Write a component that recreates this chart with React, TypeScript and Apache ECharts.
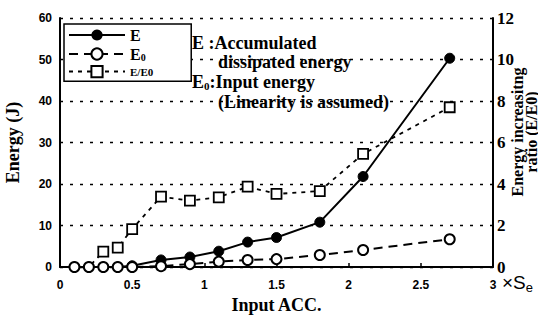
import React, { useEffect, useRef } from "react";
import * as echarts from "echarts";

const xValues = [0.1, 0.2, 0.3, 0.4, 0.5, 0.7, 0.9, 1.1, 1.3, 1.5, 1.8, 2.1, 2.7];
const eValues = [0, 0, 0, 0, 0.3, 1.7, 2.4, 3.8, 6.0, 7.1, 10.8, 21.8, 50.3];
const e0Values = [0, 0, 0, 0, 0, 0.2, 0.7, 1.3, 1.7, 1.9, 2.9, 4.1, 6.7];
const ratioValues = [0, 0, 0.74, 0.93, 1.83, 3.39, 3.2, 3.36, 3.87, 3.52, 3.66, 5.45, 7.7];
const xTickLabels = ["0", "0.5", "1", "1.5", "2", "2.5", "3"];

const SERIF = "Liberation Serif";
const SANS = "Liberation Sans";

const serifStyle = (size: number) => ({
  fontFamily: SERIF,
  fontWeight: "bold",
  fontSize: size,
  fill: "#000",
});

export default function App() {
  const ref = useRef<HTMLDivElement>(null);
  useEffect(() => {
    if (!ref.current) return;
    const chart = echarts.init(ref.current, null, { renderer: "svg" });
    const pair = (vals: number[]) => xValues.map((x, i) => [x, vals[i]]);
    const ratioData = xValues.map((x, i) =>
      ratioValues[i] === 0 ? { value: [x, 0], symbol: "none" } : { value: [x, ratioValues[i]] }
    );
    chart.setOption({
      animation: false,
      backgroundColor: "#fff",
      grid: { left: 60, right: 45, top: 18, bottom: 50, containLabel: false, outerBoundsMode: "none" },
      legend: {
        orient: "vertical",
        left: 64,
        top: 24,
        itemWidth: 56,
        itemHeight: 14,
        itemGap: 3,
        padding: [3, 38, 3, 4],
        borderColor: "#000",
        borderWidth: 1.5,
        backgroundColor: "#fff",
        data: ["E", "E0", "E/E0"],
        formatter: (name: string) => {
          if (name === "E") return "{m|E}";
          if (name === "E0") return "{m|E}{s|0}";
          return "{t|E/E0}";
        },
        textStyle: {
          color: "#000",
          fontFamily: SERIF,
          fontWeight: "bold",
          rich: {
            m: { fontFamily: SERIF, fontSize: 16, fontWeight: "bold", color: "#000" },
            s: { fontFamily: SERIF, fontSize: 10, fontWeight: "bold", color: "#000", verticalAlign: "bottom" },
            t: { fontFamily: SERIF, fontSize: 11, fontWeight: "bold", color: "#000" },
          },
        },
      },
      xAxis: {
        type: "value",
        min: 0,
        max: 3,
        interval: 0.5,
        axisLine: { lineStyle: { color: "#000", width: 2 } },
        axisTick: { inside: true, length: 4, lineStyle: { color: "#000", width: 1.5 } },
        splitLine: { show: false },
        axisLabel: {
          color: "#000",
          fontFamily: SANS,
          fontWeight: "bold",
          fontSize: 12,
          margin: 12,
          formatter: (v: number) => xTickLabels[Math.round(v / 0.5)] ?? "",
        },
        name: "Input ACC.",
        nameLocation: "middle",
        nameGap: 28,
        nameTextStyle: { fontFamily: SERIF, fontWeight: "bold", fontSize: 18, color: "#000" },
      },
      yAxis: [
        {
          type: "value",
          min: 0,
          max: 60,
          interval: 10,
          axisLine: { show: true, lineStyle: { color: "#000", width: 2 } },
          axisTick: { show: false },
          splitLine: { show: true, lineStyle: { color: "#000", width: 1.3, type: [3, 7] } },
          axisLabel: { color: "#000", fontFamily: SANS, fontWeight: "bold", fontSize: 12, margin: 8 },
          name: "Energy (J)",
          nameLocation: "middle",
          nameGap: 38,
          nameRotate: 90,
          nameTextStyle: { fontFamily: SERIF, fontWeight: "bold", fontSize: 18, color: "#000" },
        },
        {
          type: "value",
          min: 0,
          max: 12,
          interval: 2,
          position: "right",
          axisLine: { show: true, lineStyle: { color: "#000", width: 2 } },
          axisTick: { show: false },
          splitLine: { show: false },
          axisLabel: { color: "#000", fontFamily: SERIF, fontWeight: "bold", fontSize: 17, margin: 4 },
        },
      ],
      graphic: [
        {
          type: "text",
          left: 192,
          top: 34,
          style: { ...serifStyle(18), text: "E :Accumulated", backgroundColor: "#fff" },
        },
        {
          type: "text",
          left: 216,
          top: 53,
          style: { ...serifStyle(18), text: "dissipated energy", backgroundColor: "#fff", padding: [0, 2, 0, 2] },
        },
        {
          type: "text",
          left: 192,
          top: 73,
          style: {
            ...serifStyle(18),
            text: "{m|E}{s|0}{m|:Input energy}",
            backgroundColor: "#fff",
            rich: {
              m: { fontFamily: SERIF, fontWeight: "bold", fontSize: 18, color: "#000" },
              s: { fontFamily: SERIF, fontWeight: "bold", fontSize: 11, color: "#000", verticalAlign: "bottom", padding: [6, 0, 0, 0] },
            },
          },
        },
        {
          type: "text",
          left: 216,
          top: 93,
          style: { ...serifStyle(18), text: "(Linearity is assumed)", backgroundColor: "#fff", padding: [0, 2, 0, 2] },
        },
        {
          type: "text",
          left: 502,
          top: 273,
          style: {
            text: "{a|×S}{b|e}",
            fontFamily: SANS,
            rich: {
              a: { fontFamily: SANS, fontSize: 19, color: "#000" },
              b: { fontFamily: SANS, fontSize: 13, color: "#000", verticalAlign: "bottom", padding: [9, 0, 0, 0] },
            },
          },
        },
        {
          type: "text",
          x: 524,
          y: 132,
          rotation: Math.PI / 2,
          style: {
            ...serifStyle(16),
            text: "Energy increasitng\nratio (E/E0)",
            align: "center",
            verticalAlign: "middle",
            lineHeight: 14,
          },
        },
      ],
      series: [
        {
          name: "E",
          type: "line",
          yAxisIndex: 0,
          data: pair(eValues),
          symbol: "circle",
          symbolSize: 10,
          itemStyle: { color: "#000", borderColor: "#000" },
          lineStyle: { color: "#000", width: 2 },
          z: 3,
        },
        {
          name: "E0",
          type: "line",
          yAxisIndex: 0,
          data: pair(e0Values),
          symbol: "circle",
          symbolSize: 10,
          itemStyle: { color: "#fff", borderColor: "#000", borderWidth: 2 },
          lineStyle: { color: "#000", width: 2, type: [9, 6] },
          z: 4,
        },
        {
          name: "E/E0",
          type: "line",
          yAxisIndex: 1,
          data: ratioData,
          symbol: "rect",
          symbolSize: 10,
          itemStyle: { color: "#fff", borderColor: "#000", borderWidth: 1.8 },
          lineStyle: { color: "#000", width: 1.8, type: [4, 5] },
          z: 2,
        },
      ],
    });
    return () => chart.dispose();
  }, []);
  return <div ref={ref} style={{ width: 538, height: 317, position: "absolute", left: 0, top: 0 }} />;
}
